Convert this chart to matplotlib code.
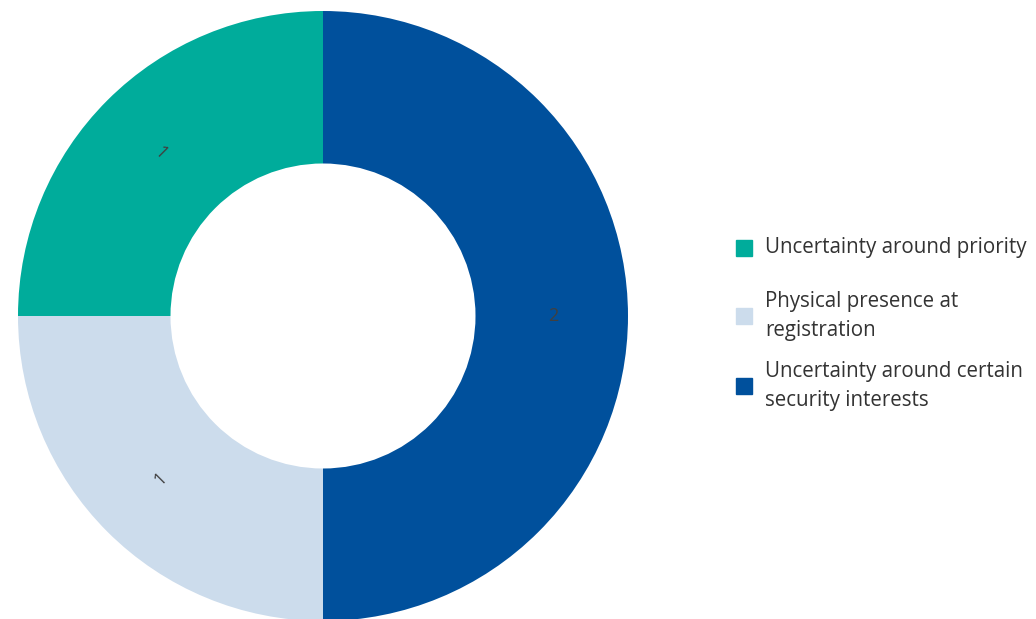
import matplotlib.pyplot as plt
from matplotlib.patches import Rectangle
import numpy as np

# Issue counts
labels = ['Uncertainty around priority',
          'Physical presence at\nregistration',
          'Uncertainty around certain\nsecurity interests']
counts = [1, 1, 2]
colors = ['#00ac9b', '#ccdcec', '#00509c']

W, H = 1036, 619
fig = plt.figure(figsize=(W / 100, H / 100), dpi=100)

# donut centre (pixels from top-left) and radius
cx, cy, r = 323, 316, 305
ax = fig.add_axes([(cx - r) / W, (H - cy - r) / H, 2 * r / W, 2 * r / H])
wedges, _ = ax.pie(counts, colors=colors, startangle=90, counterclock=True,
                   radius=1, wedgeprops=dict(width=0.5, linewidth=0))
ax.set_xlim(-1, 1)
ax.set_ylim(-1, 1)
ax.set_aspect('equal')
ax.axis('off')

# value labels along the middle of the ring, rotated radially
for w, v in zip(wedges, counts):
    ang = (w.theta1 + w.theta2) / 2
    x = 0.755 * np.cos(np.radians(ang))
    y = 0.755 * np.sin(np.radians(ang))
    rot = ang if ang <= 90 or ang >= 270 else ang - 180
    ax.text(x, y, str(v), ha='center', va='center', rotation=rot,
            rotation_mode='anchor', fontsize=13, color='#404040',
            family='Open Sans')

# legend on the right
leg_y = [248, 316, 386]
for lab, col, y in zip(labels, colors, leg_y):
    fig.patches.append(Rectangle(((736) / W, (H - y - 8) / H), 16 / W, 16 / H,
                                 transform=fig.transFigure, color=col))
    fig.text(765 / W, (H - y) / H, lab, ha='left', va='center',
             fontsize=14.8, color='#333333', family='Open Sans',
             linespacing=1.5)

fig.savefig('out.png', dpi=100)
